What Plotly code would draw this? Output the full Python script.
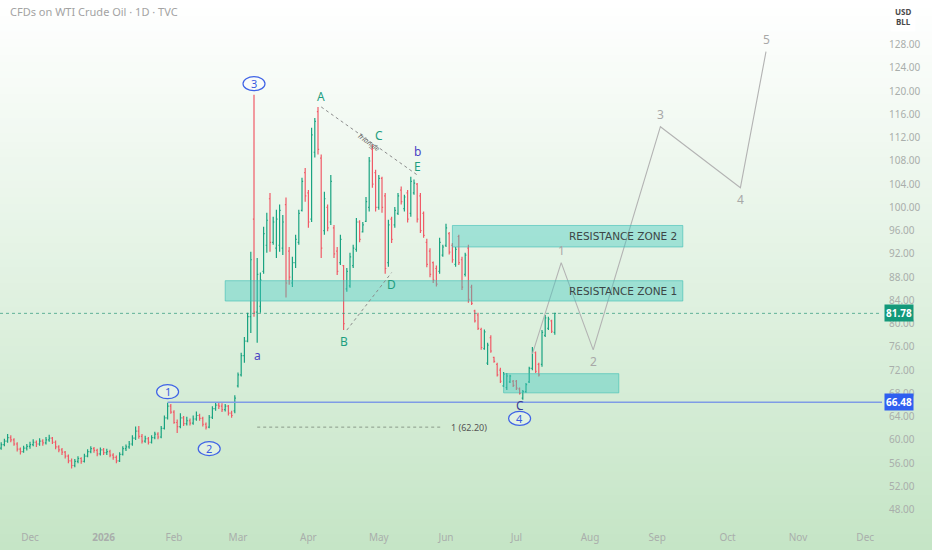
import pandas as pd
import plotly.graph_objects as go

# ---------------- data ----------------
bar_open = [
    58.2, 58.6, 59.2, 59.8, 60.4, 60.0, 59.3, 58.4, 58.0, 58.6,
    58.9, 59.2, 59.6, 59.3, 59.8, 59.5, 60.0, 60.3, 59.6, 58.8,
    58.3, 57.9, 57.2, 56.4, 55.6, 56.3, 56.8, 56.3, 57.2, 58.0,
    58.5, 58.2, 57.6, 58.3, 57.8, 58.0, 57.4, 57.0, 56.4, 57.5,
    58.5, 58.8, 59.3, 60.3, 61.5, 60.6, 59.8, 60.2, 59.6, 60.4,
    61.0, 60.5, 62.0, 63.8, 65.8, 64.8, 63.0, 62.3, 63.8, 62.8,
    63.3, 62.9, 63.6, 64.2, 63.7, 62.7, 62.2, 63.9, 65.4, 66.0,
    65.8, 65.2, 65.8, 64.6, 65.0,
    69.3, 71.2, 74.5, 77.0, 81.2, 98.0, 82.0, 83.0, 89.0, 93.5,
    101.5, 94.0, 93.0, 93.5, 93.0, 100.5, 92.5, 87.0, 90.5, 94.0,
    99.5, 106.0, 102.5, 98.0, 109.5, 116.5, 108.5, 96.0, 100.0, 97.5,
    96.5, 92.5, 90.5, 90.0, 86.0, 86.5, 90.0, 92.8, 97.5, 95.8,
    97.6, 100.0, 110.0, 106.0, 100.0, 105.0, 102.0, 90.5, 98.0, 97.0,
    99.0, 103.0, 99.8, 102.5, 99.0, 102.5, 104.0, 102.0, 99.0, 94.0,
    92.5, 90.5, 89.5, 89.0, 91.8, 93.5, 95.5, 93.5, 90.2, 95.0,
    91.0, 88.5, 93.0, 86.3, 82.2, 81.5, 79.0, 75.7, 73.2, 77.6,
    74.2, 73.0, 72.0, 69.3, 69.0, 70.0, 70.1, 70.1, 68.8, 67.2,
    68.3, 70.0, 72.3, 75.0, 73.0, 73.0, 78.0, 79.2, 80.5, 78.5,
]
bar_high = [
    59.0, 59.6, 60.2, 61.0, 60.8, 60.3, 59.6, 58.7, 59.0, 59.3,
    59.7, 60.1, 59.9, 60.3, 60.1, 60.5, 60.9, 60.5, 59.9, 59.1,
    58.6, 58.1, 57.5, 56.8, 56.7, 57.2, 57.0, 57.6, 58.4, 58.9,
    58.8, 58.5, 58.7, 58.6, 58.5, 58.3, 57.7, 57.3, 57.9, 58.9,
    59.2, 59.8, 60.8, 62.3, 62.4, 61.0, 60.7, 60.5, 60.8, 61.4,
    61.3, 62.4, 64.2, 66.4, 66.2, 65.1, 63.5, 64.6, 64.1, 64.0,
    63.7, 64.2, 64.9, 64.5, 64.0, 63.0, 64.3, 65.8, 66.5, 66.4,
    66.3, 66.2, 66.0, 65.0, 67.7,
    71.6, 75.0, 77.7, 81.9, 92.4, 119.4, 91.3, 88.8, 96.7, 99.1,
    102.5, 98.4, 99.6, 100.5, 98.7, 101.7, 93.2, 91.5, 95.3, 99.6,
    105.1, 106.8, 103.0, 113.7, 115.4, 117.3, 109.1, 102.7, 100.5, 105.6,
    97.0, 93.2, 95.3, 90.1, 89.6, 92.2, 93.6, 98.2, 97.8, 97.5,
    101.8, 108.7, 110.8, 106.5, 105.6, 105.3, 102.5, 97.9, 98.4, 100.1,
    102.5, 103.6, 102.2, 103.0, 105.3, 104.8, 104.2, 102.5, 99.3, 94.6,
    93.0, 90.7, 90.0, 94.8, 93.6, 97.2, 95.8, 93.9, 93.2, 95.3,
    91.5, 92.2, 93.6, 86.7, 82.4, 81.9, 79.3, 79.0, 76.7, 78.0,
    74.3, 73.3, 72.4, 71.7, 71.5, 71.2, 70.3, 70.3, 69.0, 68.6,
    69.8, 72.6, 76.0, 75.2, 73.3, 78.9, 81.5, 81.2, 80.7, 81.9,
]
bar_low = [
    57.8, 58.3, 58.9, 59.5, 59.6, 59.0, 58.0, 57.5, 57.8, 58.2,
    58.5, 58.9, 58.8, 59.0, 59.0, 59.2, 59.7, 59.3, 58.4, 57.9,
    57.4, 56.8, 56.0, 55.1, 55.3, 56.0, 55.9, 56.1, 57.0, 57.7,
    57.8, 57.2, 57.3, 57.4, 57.4, 57.0, 56.6, 56.0, 56.2, 57.3,
    58.1, 58.5, 59.0, 60.0, 60.2, 59.4, 59.5, 59.2, 59.4, 60.1,
    60.1, 60.3, 61.8, 63.5, 64.5, 62.8, 61.2, 62.0, 62.4, 62.5,
    62.5, 62.6, 63.3, 63.3, 62.3, 61.8, 62.0, 63.6, 65.0, 65.3,
    64.8, 64.9, 64.2, 63.8, 64.6,
    69.0, 70.9, 73.3, 76.8, 78.4, 81.2, 76.7, 81.9, 88.6, 92.2,
    92.4, 93.6, 91.3, 92.4, 91.8, 84.5, 86.7, 86.3, 89.6, 93.6,
    99.3, 101.0, 96.5, 97.5, 108.6, 109.1, 91.3, 95.3, 95.9, 97.0,
    91.3, 88.4, 90.1, 78.9, 85.5, 86.2, 89.6, 92.4, 94.0, 95.7,
    97.5, 99.3, 103.4, 99.3, 99.6, 99.1, 88.6, 89.8, 93.9, 96.5,
    98.7, 100.5, 99.3, 97.4, 98.4, 102.2, 97.4, 95.6, 94.8, 89.7,
    88.0, 87.0, 86.4, 88.6, 91.5, 93.2, 91.9, 90.5, 89.8, 90.1,
    85.8, 88.1, 83.6, 83.2, 80.2, 78.9, 75.5, 75.5, 72.9, 75.0,
    73.3, 70.9, 69.8, 69.1, 68.6, 69.8, 69.1, 68.6, 67.8, 66.9,
    68.1, 69.8, 72.0, 71.5, 70.9, 72.6, 77.7, 78.9, 78.4, 78.1,
]
bar_close = [
    58.6, 59.2, 59.8, 60.4, 60.0, 59.3, 58.4, 58.0, 58.6, 58.9,
    59.2, 59.6, 59.3, 59.8, 59.5, 60.0, 60.3, 59.6, 58.8, 58.3,
    57.9, 57.2, 56.4, 55.6, 56.3, 56.8, 56.3, 57.2, 58.0, 58.5,
    58.2, 57.6, 58.3, 57.8, 58.0, 57.4, 57.0, 56.4, 57.5, 58.5,
    58.8, 59.3, 60.3, 61.5, 60.6, 59.8, 60.2, 59.6, 60.4, 61.0,
    60.5, 62.0, 63.8, 65.8, 64.8, 63.0, 62.3, 63.8, 62.8, 63.3,
    62.9, 63.6, 64.2, 63.7, 62.7, 62.2, 63.9, 65.4, 66.0, 65.8,
    65.2, 65.8, 64.6, 64.2, 67.2,
    71.2, 74.5, 77.0, 81.2, 91.0, 82.0, 88.5, 87.5, 95.5, 97.8,
    94.0, 97.5, 98.0, 99.5, 97.5, 87.0, 88.0, 90.5, 94.5, 99.0,
    104.5, 102.0, 97.5, 112.5, 114.8, 110.0, 93.0, 101.5, 96.5, 104.5,
    92.0, 89.0, 94.5, 80.0, 89.0, 91.5, 93.0, 97.5, 94.5, 97.0,
    101.0, 108.0, 104.0, 100.0, 105.0, 100.0, 89.5, 97.0, 94.5, 99.5,
    102.0, 101.0, 101.8, 98.0, 104.5, 104.2, 98.0, 96.0, 95.2, 90.2,
    88.5, 87.5, 86.8, 94.0, 93.2, 96.5, 92.3, 91.0, 92.8, 90.5,
    86.3, 91.8, 84.2, 83.5, 80.5, 79.2, 75.9, 78.6, 76.3, 75.3,
    73.5, 71.2, 70.1, 71.3, 71.0, 71.0, 69.4, 68.9, 68.0, 68.3,
    69.5, 72.3, 75.6, 71.8, 71.2, 78.5, 81.0, 80.8, 78.7, 81.78,
]
first_bar_date = "2025-11-17"

last_price = 81.78
support_price = 66.48
support_start = "2026-01-29"
fib_price = 62.20
fib_start, fib_end = "2026-03-10", "2026-05-29"

month_tick_dates = ["2025-12-01", "2026-01-01", "2026-02-02", "2026-03-02", "2026-04-01",
                    "2026-05-01", "2026-06-01", "2026-07-01", "2026-08-03", "2026-09-01",
                    "2026-10-01", "2026-11-02", "2026-12-01"]
month_tick_labels = ["Dec", "<b>2026</b>", "Feb", "Mar", "Apr", "May", "Jun", "Jul",
                     "Aug", "Sep", "Oct", "Nov", "Dec"]
price_ticks = [48, 52, 56, 60, 64, 68, 72, 76, 80, 84, 88, 92, 96, 100,
               104, 108, 112, 116, 120, 124, 128]

zone_names = ["RESISTANCE ZONE 1", "RESISTANCE ZONE 2", ""]
zone_start = ["2026-02-24", "2026-06-03", "2026-06-25"]
zone_end = ["2026-09-11", "2026-09-11", "2026-08-14"]
zone_low = [83.9, 93.2, 68.1]
zone_high = [87.4, 96.9, 71.4]

triangle_dates = ["2026-04-07", "2026-05-19"]
triangle_prices = [117.3, 105.6]
bd_dates = ["2026-04-17", "2026-05-07"]
bd_prices = [78.9, 88.8]

wave_dates = ["2026-07-08", "2026-07-21", "2026-08-04", "2026-09-02", "2026-10-07", "2026-10-19"]
wave_prices = [74.8, 90.5, 75.5, 113.9, 103.4, 126.8]
wave_labels = ["", "1", "2", "3", "4", "5"]
wave_label_side = [0, 1, -1, 1, -1, 1]

letter_texts = ["A", "B", "C", "D", "E", "b", "a", "C"]
letter_dates = ["2026-04-07", "2026-04-16", "2026-05-01", "2026-05-07", "2026-05-19",
                "2026-05-19", "2026-03-10", "2026-07-02"]
letter_prices = [119.05, 76.9, 112.3, 86.7, 107.0, 109.6, 74.5, 66.0]
letter_colors = ["#1e9e80", "#1e9e80", "#1e9e80", "#1e9e80", "#1e9e80",
                 "#4b43c4", "#4b43c4", "#3b3b93"]

circle_texts = ["1", "2", "3", "4"]
circle_dates = ["2026-01-29", "2026-02-17", "2026-03-09", "2026-07-02"]
circle_prices = [68.3, 58.5, 121.3, 63.7]

# ---------------- figure ----------------
bar_dates = pd.bdate_range(first_bar_date, periods=len(bar_close))
x_range = ["2025-11-17 15:00", "2026-12-08 06:00"]
y_range = [44.5, 135.7]

W, H = 932, 550
ML, MR, MT, MB = 0, 50, 0, 20
plot_h = H - MT - MB
plot_w = W - ML - MR

fig = go.Figure()

fig.add_trace(go.Ohlc(
    x=bar_dates, open=bar_open, high=bar_high, low=bar_low, close=bar_close,
    increasing=dict(line=dict(color="#1aa381", width=1.2)),
    decreasing=dict(line=dict(color="#f05a67", width=1.2)),
    tickwidth=0.35, showlegend=False, hoverinfo="skip",
))

fig.add_trace(go.Scatter(
    x=wave_dates, y=wave_prices, mode="lines",
    line=dict(color="#b3b3b3", width=1.1), showlegend=False, hoverinfo="skip",
))

shapes = []
# background gradient (white at top -> light green at bottom)
n_bands = 70
top_c = (255, 255, 255)
bot_c = (197, 229, 198)
y_bottom = -MB / plot_h
y_top = 1.0
for k in range(n_bands):
    t = k / (n_bands - 1)
    col = tuple(round(bot_c[j] + (top_c[j] - bot_c[j]) * t) for j in range(3))
    y0 = y_bottom + (y_top - y_bottom) * k / n_bands
    y1 = y_bottom + (y_top - y_bottom) * (k + 1) / n_bands + 0.002
    shapes.append(dict(type="rect", xref="paper", yref="paper",
                       x0=-0.01, x1=W / plot_w + 0.01, y0=y0, y1=y1,
                       fillcolor="rgb(%d,%d,%d)" % col, line=dict(width=0), layer="below"))

# zones
for x0, x1, lo, hi in zip(zone_start, zone_end, zone_low, zone_high):
    shapes.append(dict(type="rect", xref="x", yref="y", x0=x0, x1=x1, y0=lo, y1=hi,
                       fillcolor="rgba(64,200,190,0.42)",
                       line=dict(color="rgba(60,190,180,0.6)", width=1), layer="above"))

# last price dotted line
shapes.append(dict(type="line", xref="paper", yref="y", x0=0, x1=1,
                   y0=last_price, y1=last_price,
                   line=dict(color="rgba(40,150,120,0.7)", width=1, dash="dot")))
# support line
shapes.append(dict(type="line", xref="x", yref="y", x0=support_start, x1=x_range[1],
                   y0=support_price, y1=support_price,
                   line=dict(color="#7f9be6", width=1.5)))
# fib dotted
shapes.append(dict(type="line", xref="x", yref="y", x0=fib_start, x1=fib_end,
                   y0=fib_price, y1=fib_price,
                   line=dict(color="#8a9a8a", width=1, dash="dot")))
# triangle lines
shapes.append(dict(type="line", xref="x", yref="y", x0=triangle_dates[0], x1=triangle_dates[1],
                   y0=triangle_prices[0], y1=triangle_prices[1],
                   line=dict(color="#8c8c8c", width=1, dash="dot")))
shapes.append(dict(type="line", xref="x", yref="y", x0=bd_dates[0], x1=bd_dates[1],
                   y0=bd_prices[0], y1=bd_prices[1],
                   line=dict(color="#8c8c8c", width=1, dash="dot")))
# circles around wave numbers
for d, p in zip(circle_dates, circle_prices):
    shapes.append(dict(type="circle", xref="x", yref="y", xsizemode="pixel", ysizemode="pixel",
                       xanchor=d, yanchor=p, x0=-11, x1=11, y0=-7, y1=7,
                       fillcolor="rgba(255,255,255,0.35)",
                       line=dict(color="#3f63e6", width=1.2)))

annotations = []
FONT = "Noto Sans"
annotations.append(dict(xref="paper", yref="paper", x=8 / plot_w, y=1 - 12 / plot_h,
                        xanchor="left", yanchor="middle", showarrow=False,
                        text="CFDs on WTI Crude Oil · 1D · TVC",
                        font=dict(family=FONT, size=11, color="#a3a3a3")))
annotations.append(dict(xref="paper", yref="paper", x=(903 - ML) / plot_w, y=1 - 17 / plot_h,
                        xanchor="center", yanchor="middle", showarrow=False,
                        text="<b>USD</b><br><b>BLL</b>", align="center",
                        bgcolor="rgba(255,255,255,0.95)", borderpad=4,
                        font=dict(family=FONT, size=8, color="#4a4a4a")))
annotations.append(dict(xref="paper", yref="y", x=1.0, y=last_price, xanchor="left", xshift=2,
                        yanchor="middle", showarrow=False, text="<b>%.2f</b>" % last_price,
                        bgcolor="#14997a", borderpad=1,
                        font=dict(family=FONT, size=10, color="white")))
annotations.append(dict(xref="paper", yref="y", x=1.0, y=support_price, xanchor="left", xshift=2,
                        yanchor="middle", showarrow=False, text="<b>%.2f</b>" % support_price,
                        bgcolor="#2f5ff0", borderpad=1,
                        font=dict(family=FONT, size=10, color="white")))
annotations.append(dict(xref="x", yref="y", x=fib_end, y=fib_price, xanchor="left", xshift=6,
                        yanchor="middle", showarrow=False, text="1 (62.20)",
                        font=dict(family=FONT, size=9, color="#555555")))
for name, x1, lo, hi in zip(zone_names, zone_end, zone_low, zone_high):
    if name:
        annotations.append(dict(xref="x", yref="y", x=x1, y=(lo + hi) / 2, xanchor="right",
                                xshift=-4, yanchor="middle", showarrow=False, text=name,
                                font=dict(family="DejaVu Sans", size=10.5, color="#3c4646")))
annotations.append(dict(xref="x", yref="y", x="2026-04-28", y=111.2, showarrow=False,
                        text="<i>Triangle</i>", textangle=36,
                        font=dict(family=FONT, size=7, color="#666666")))
for t, d, p, c in zip(letter_texts, letter_dates, letter_prices, letter_colors):
    annotations.append(dict(xref="x", yref="y", x=d, y=p, showarrow=False, text=t,
                            font=dict(family=FONT, size=12, color=c)))
for t, d, p in zip(circle_texts, circle_dates, circle_prices):
    annotations.append(dict(xref="x", yref="y", x=d, y=p, showarrow=False, text=t,
                            font=dict(family=FONT, size=11, color="#3a5be0")))
for t, d, p, s in zip(wave_labels, wave_dates, wave_prices, wave_label_side):
    if t:
        annotations.append(dict(xref="x", yref="y", x=d, y=p, showarrow=False, text=t,
                                yshift=12 * s,
                                font=dict(family=FONT, size=12, color="#a8a8a8")))

fig.update_layout(
    width=W, height=H,
    margin=dict(l=ML, r=MR, t=MT, b=MB),
    paper_bgcolor="white", plot_bgcolor="rgba(0,0,0,0)",
    shapes=shapes, annotations=annotations,
    showlegend=False,
    xaxis=dict(type="date", range=x_range,
               rangebreaks=[dict(bounds=["sat", "mon"])],
               rangeslider=dict(visible=False),
               tickvals=month_tick_dates, ticktext=month_tick_labels,
               showgrid=False, zeroline=False, showline=False, ticks="",
               tickfont=dict(family=FONT, size=10, color="#a9aeab")),
    yaxis=dict(side="right", range=y_range, tickvals=price_ticks, tickformat=".2f",
               showgrid=False, zeroline=False, showline=False, ticks="",
               ticklabelstandoff=6,
               tickfont=dict(family=FONT, size=10, color="#a9aeab")),
)

fig.write_html("out.html", config={"displayModeBar": False},
               post_script="document.body.style.margin='0';document.body.style.overflow='hidden';")
